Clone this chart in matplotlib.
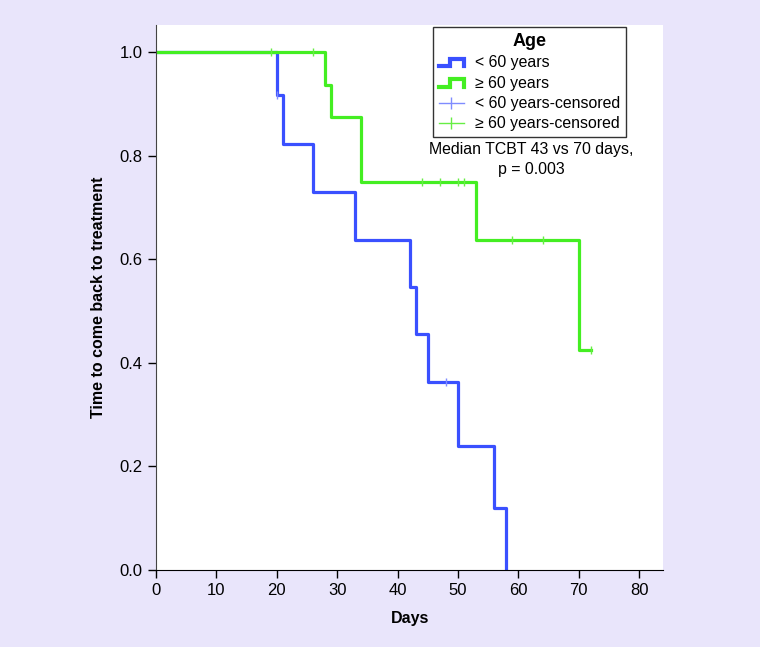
import matplotlib.pyplot as plt
from matplotlib.lines import Line2D
from matplotlib.legend_handler import HandlerBase

plt.rcParams['font.family'] = ['Liberation Sans', 'DejaVu Sans']

# Kaplan-Meier steps
young_t = [0, 20, 21, 26, 33, 42, 43, 45, 50, 56, 58]
young_s = [1.0, 0.917, 0.822, 0.729, 0.637, 0.546, 0.455, 0.364, 0.24, 0.12, 0.0]
young_cens_t = [20, 48]
young_cens_s = [0.917, 0.364]

old_t = [0, 28, 29, 34, 53, 70, 72]
old_s = [1.0, 0.9375, 0.875, 0.75, 0.637, 0.425, 0.425]
old_cens_t = [19, 26, 44, 47, 50, 51, 59, 64, 72]
old_cens_s = [1.0, 1.0, 0.75, 0.75, 0.75, 0.75, 0.637, 0.637, 0.425]

blue = '#3a50ff'
green = '#44ee22'
bg = '#e9e5fb'


class StepHandler(HandlerBase):
    def create_artists(self, legend, orig, xd, yd, w, h, fontsize, trans):
        xs = [xd, xd + w * 0.45, xd + w * 0.45, xd + w, xd + w]
        ys = [yd + h * 0.1, yd + h * 0.1, yd + h * 0.75, yd + h * 0.75, yd + h * 0.1]
        ln = Line2D(xs, ys, color=orig.get_color(), lw=3, solid_joinstyle='miter')
        ln.set_transform(trans)
        return [ln]


fig = plt.figure(figsize=(7.6, 6.47), dpi=100, facecolor=bg)
ax = fig.add_axes([0.205, 0.119, 0.668, 0.842])
ax.set_facecolor('white')

ax.step(young_t, young_s, where='post', color=blue, lw=2.3)
ax.step(old_t, old_s, where='post', color=green, lw=2.3)
ax.plot(young_cens_t, young_cens_s, ls='none', color='#7f8cff', marker='|', ms=6, mew=1)
ax.plot(old_cens_t, old_cens_s, ls='none', color='#66ee44', marker='|', ms=6, mew=1)

ax.set_xlim(0, 84)
ax.set_ylim(0, 1.052)
ax.set_xticks(range(0, 81, 10))
ax.set_yticks([0, 0.2, 0.4, 0.6, 0.8, 1.0])
ax.set_yticklabels(['0.0', '0.2', '0.4', '0.6', '0.8', '1.0'])
ax.tick_params(labelsize=12, length=6, width=1, direction='out')
for s in ['top', 'right']:
    ax.spines[s].set_visible(False)
ax.spines['left'].set_color('#444444')

ax.set_xlabel('Days', fontsize=11.5, fontweight='bold', labelpad=9)
ax.set_ylabel('Time to come back to treatment', fontsize=11.5, fontweight='bold', labelpad=10)

h1 = Line2D([], [], color=blue)
h2 = Line2D([], [], color=green)
h3 = Line2D([], [], color='#7f8cff', lw=1, marker='|', ms=9, mew=1)
h4 = Line2D([], [], color='#66ee44', lw=1, marker='|', ms=9, mew=1)
leg = ax.legend([h1, h2, h3, h4],
                ['< 60 years', '≥ 60 years', '< 60 years-censored', '≥ 60 years-censored'],
                handler_map={h1: StepHandler(), h2: StepHandler()},
                title='Age', title_fontproperties={'weight': 'bold', 'size': 13},
                fontsize=11.4, loc='upper left', bbox_to_anchor=(0.546, 0.996),
                borderaxespad=0, frameon=True, fancybox=False, edgecolor='black',
                handlelength=1.6, borderpad=0.35, labelspacing=0.34, handletextpad=0.7)
leg.get_frame().set_linewidth(1)

ax.text(0.74, 0.754, 'Median TCBT 43 vs 70 days,\np = 0.003', transform=ax.transAxes,
        ha='center', va='center', fontsize=11.4, linespacing=1.45)

fig.savefig('out.png', dpi=100, facecolor=bg)
